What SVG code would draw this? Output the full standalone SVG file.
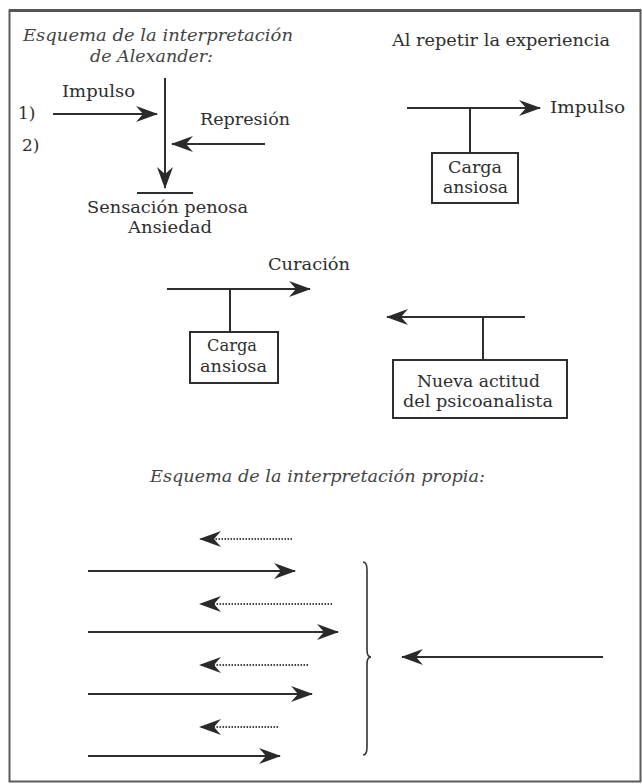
<svg xmlns="http://www.w3.org/2000/svg" width="642" height="784" viewBox="0 0 642 784">
<style>
text{font-family:"DejaVu Serif","Liberation Serif",serif;font-size:17px;fill:#2e2e2e}
.it{font-style:italic;fill:#444;font-size:16px}
.ln{stroke:#2e2e2e;stroke-width:2;fill:none}
.dt{stroke:#444;stroke-width:2;stroke-dasharray:1.5 1.5;fill:none}
.bx{stroke:#2e2e2e;stroke-width:2;fill:#fff}
</style>
<defs>
<marker id="ah" viewBox="0 0 22 16" refX="21" refY="8" markerWidth="22" markerHeight="16" markerUnits="userSpaceOnUse" orient="auto">
<path d="M0,0 L22,8 L0,16 L7,8 Z" fill="#2a2a2a"/>
</marker>
</defs>
<rect x="0" y="0" width="642" height="784" fill="#fff"/>
<rect x="9.5" y="10.5" width="631" height="771" fill="none" stroke="#5a5a5a" stroke-width="2"/>
<line x1="9" y1="10.5" x2="641" y2="10.5" stroke="#555" stroke-width="3"/>

<g id="connectors">
<line class="ln" x1="165" y1="78" x2="165" y2="188" marker-end="url(#ah)"/>
<line class="ln" x1="137" y1="193" x2="193" y2="193"/>
<line class="ln" x1="53" y1="114" x2="157" y2="114" marker-end="url(#ah)"/>
<line class="ln" x1="265" y1="144" x2="172" y2="144" marker-end="url(#ah)"/>
<line class="ln" x1="407" y1="108" x2="540" y2="108" marker-end="url(#ah)"/>
<line class="ln" x1="470" y1="108" x2="470" y2="153"/>
<line class="ln" x1="167" y1="289" x2="310" y2="289" marker-end="url(#ah)"/>
<line class="ln" x1="230" y1="289" x2="230" y2="332"/>
<line class="ln" x1="525" y1="317" x2="387" y2="317" marker-end="url(#ah)"/>
<line class="ln" x1="483" y1="317" x2="483" y2="360"/>
<line class="dt" x1="292" y1="539" x2="200" y2="539" marker-end="url(#ah)"/>
<line class="ln" x1="88" y1="571" x2="295" y2="571" marker-end="url(#ah)"/>
<line class="dt" x1="332" y1="604" x2="200" y2="604" marker-end="url(#ah)"/>
<line class="ln" x1="88" y1="632" x2="338" y2="632" marker-end="url(#ah)"/>
<line class="dt" x1="308" y1="665" x2="200" y2="665" marker-end="url(#ah)"/>
<line class="ln" x1="88" y1="694" x2="312" y2="694" marker-end="url(#ah)"/>
<line class="dt" x1="278" y1="727" x2="200" y2="727" marker-end="url(#ah)"/>
<line class="ln" x1="88" y1="756" x2="280" y2="756" marker-end="url(#ah)"/>
<path d="M363,562 Q367,562 367,570 L367,650 Q367,657 371,657 Q367,657 367,664 L367,747 Q367,755 363,755" stroke="#333" stroke-width="1.6" fill="none"/>
<line class="ln" x1="603" y1="657" x2="402" y2="657" marker-end="url(#ah)"/>
</g>

<g id="title-alexander">
<text class="it" x="23" y="41" textLength="270" lengthAdjust="spacingAndGlyphs">Esquema de la interpretación</text>
<text class="it" x="90" y="62" textLength="123" lengthAdjust="spacingAndGlyphs">de Alexander:</text>
</g>
<g id="label-1"><text x="18" y="119">1)</text></g>
<g id="label-2"><text x="22" y="151">2)</text></g>
<g id="impulso-1"><text x="62" y="97" textLength="73" lengthAdjust="spacingAndGlyphs">Impulso</text></g>
<g id="represion"><text x="200" y="125" textLength="90" lengthAdjust="spacingAndGlyphs">Represión</text></g>
<g id="sensacion">
<text x="87" y="213" textLength="161" lengthAdjust="spacingAndGlyphs">Sensación penosa</text>
<text x="128" y="233" textLength="84" lengthAdjust="spacingAndGlyphs">Ansiedad</text>
</g>
<g id="title-repetir"><text x="392" y="46" textLength="218" lengthAdjust="spacingAndGlyphs">Al repetir la experiencia</text></g>
<g id="impulso-2"><text x="550" y="113" textLength="75" lengthAdjust="spacingAndGlyphs">Impulso</text></g>
<g id="carga-1">
<rect class="bx" x="432" y="153" width="86" height="50"/>
<text x="448" y="173" textLength="54" lengthAdjust="spacingAndGlyphs">Carga</text>
<text x="443" y="193" textLength="65" lengthAdjust="spacingAndGlyphs">ansiosa</text>
</g>
<g id="curacion"><text x="268" y="270" textLength="82" lengthAdjust="spacingAndGlyphs">Curación</text></g>
<g id="carga-2">
<rect class="bx" x="190" y="332" width="88" height="51"/>
<text x="207" y="351" textLength="50" lengthAdjust="spacingAndGlyphs">Carga</text>
<text x="200" y="372" textLength="67" lengthAdjust="spacingAndGlyphs">ansiosa</text>
</g>
<g id="nueva-actitud">
<rect class="bx" x="393" y="360" width="174" height="58"/>
<text x="417" y="387" textLength="123" lengthAdjust="spacingAndGlyphs">Nueva actitud</text>
<text x="403" y="407" textLength="150" lengthAdjust="spacingAndGlyphs">del psicoanalista</text>
</g>
<g id="title-propia"><text class="it" x="150" y="482" textLength="335" lengthAdjust="spacingAndGlyphs">Esquema de la interpretación propia:</text></g>
</svg>
